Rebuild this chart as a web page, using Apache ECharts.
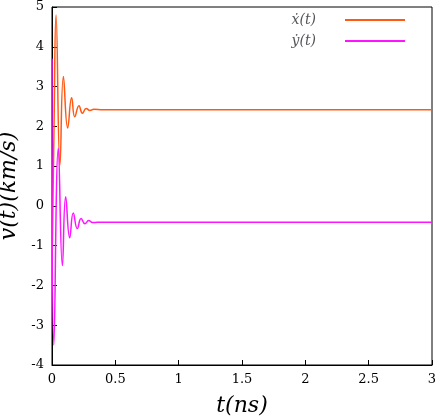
<!DOCTYPE html><html><head><meta charset="utf-8"><script src="https://cdn.jsdelivr.net/npm/echarts@6/dist/echarts.min.js"></script></head><body style="margin:0"><div id="c" style="width:436px;height:420px"></div><script>
const xT=[0,0.016,0.032,0.063,0.09,0.124,0.155,0.18,0.213,0.24,0.27,0.3,0.33,0.4,3];
const xV=[-1.6,2.0,4.8,1.03,3.25,1.96,2.72,2.24,2.52,2.33,2.45,2.40,2.43,2.42,2.42];
const yT=[0,0.015,0.05,0.082,0.108,0.14,0.168,0.2,0.23,0.26,0.29,0.32,0.36,3];
const yV=[3.7,-3.5,1.45,-1.5,0.23,-0.8,-0.18,-0.57,-0.32,-0.45,-0.37,-0.42,-0.41,-0.41];
const z=(a,b)=>a.map((v,i)=>[v,b[i]]);
const ax={axisLine:{show:true,onZero:false,lineStyle:{color:'#000'}},axisTick:{inside:true,lineStyle:{color:'#000'}},splitLine:{show:false},axisLabel:{color:'#000',fontFamily:'DejaVu Serif',fontSize:13}};
const f='DejaVu Serif';
echarts.init(document.getElementById('c')).setOption({animation:false,
grid:{left:52,right:4,top:7,bottom:55,containLabel:false,outerBoundsMode:'none',show:true,borderColor:'#000',borderWidth:1},
legend:{right:26,top:8,orient:'vertical',itemWidth:60,itemHeight:2,align:'right',icon:'rect',itemGap:7,textStyle:{fontFamily:f,fontStyle:'italic',fontSize:14,padding:[0,24,0,0]}},
xAxis:{type:'value',min:0,max:3,interval:0.5,...ax,name:'t(ns)',nameLocation:'middle',nameGap:30,nameTextStyle:{fontFamily:f,fontStyle:'italic',fontSize:22,color:'#000'}},
yAxis:{type:'value',min:-4,max:5,interval:1,...ax,name:'v(t)(km/s)',nameLocation:'middle',nameGap:28,nameTextStyle:{fontFamily:f,fontStyle:'italic',fontSize:22,color:'#000'}},
series:[{name:'ẋ(t)',type:'line',smooth:0.5,showSymbol:false,data:z(xT,xV),lineStyle:{color:'#ff5a14',width:1.5},itemStyle:{color:'#ff5a14'}},
{name:'ẏ(t)',type:'line',smooth:0.5,showSymbol:false,data:z(yT,yV),lineStyle:{color:'#ff14ff',width:1.5},itemStyle:{color:'#ff14ff'}}]});
</script></body></html>
